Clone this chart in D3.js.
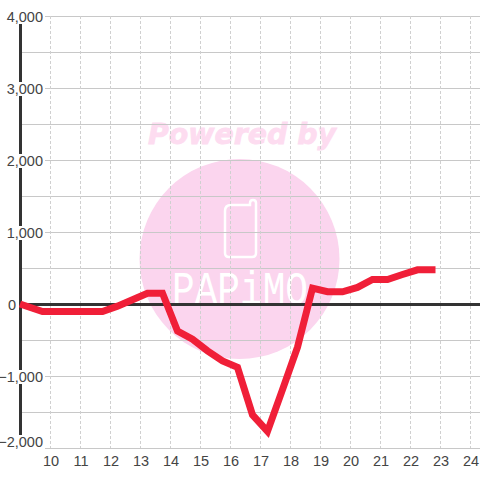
<!DOCTYPE html>
<html>
<head>
<meta charset="utf-8">
<script src="https://cdn.jsdelivr.net/npm/d3@7"></script>
<style>
  html, body { margin: 0; padding: 0; background: #fff; }
  svg { display: block; }
  text { font-family: "Liberation Sans", Arial, sans-serif; }
</style>
</head>
<body>
<div id="chart"></div>
<script>
// hour of day and value
const hours = [9, 9.75, 10.25, 10.75, 11.25, 11.75, 12.25, 12.75, 13.25, 13.75, 14.25, 14.75, 15.25, 15.75, 16.25, 16.75, 17.25, 17.75, 18.25, 18.75, 19.25, 19.75, 20.25, 20.75, 21.25, 21.75, 22.25, 22.85];
const values = [0, -105, -105, -105, -105, -105, -30, 60, 150, 150, -375, -490, -650, -790, -880, -1540, -1770, -1190, -600, 220, 170, 170, 230, 340, 340, 410, 475, 475];
const xTicks = [10, 11, 12, 13, 14, 15, 16, 17, 18, 19, 20, 21, 22, 23, 24];
const yLabels = [4000, 3000, 2000, 1000, 0, -1000, -2000];
const yGrid = [4000, 3500, 3000, 2500, 2000, 1500, 1000, 500, -500, -1000, -1500, -2000];

const width = 480, height = 480;
const x = d3.scaleLinear().domain([9, 24]).range([20, 470]);
const y = d3.scaleLinear().domain([4000, -2000]).range([16, 448]);
const fmt = d3.format(",d");

const svg = d3.select("#chart").append("svg")
    .attr("width", width)
    .attr("height", height);

// watermark, it sits under the grid
const mark = svg.append("g");
mark.append("circle")
    .attr("cx", 239.5).attr("cy", 259).attr("r", 100)
    .attr("fill", "#fbd5ee");
mark.append("text")
    .attr("x", 148).attr("y", 144)
    .style("font-family", "'DejaVu Sans'")
    .style("font-weight", "bold")
    .style("font-style", "oblique")
    .style("font-size", "28.4px")
    .attr("fill", "#fddcf0")
    .attr("stroke", "#fddcf0")
    .attr("stroke-width", 0.8)
    .text("Powered by");
mark.append("path")
    .attr("d", "M231 205 H250 V203 Q250 200 253 200 Q256 200 256 203 V253 Q256 257 252 257 H229 Q225 257 225 253 V211 Q225 205 231 205 Z")
    .attr("fill", "none")
    .attr("stroke", "#fff")
    .attr("stroke-width", 2.5);
mark.append("text")
    .attr("x", 172).attr("y", 304)
    .attr("textLength", 136)
    .attr("lengthAdjust", "spacingAndGlyphs")
    .style("font-family", "'Liberation Mono'")
    .style("font-size", "46px")
    .attr("fill", "#fff")
    .text("PAPiMO");

// grids
svg.append("g").selectAll("line")
    .data(yGrid)
    .join("line")
    .attr("x1", x(9)).attr("x2", width)
    .attr("y1", d => y(d) + 0.5).attr("y2", d => y(d) + 0.5)
    .attr("stroke", "#c8c8c8");

svg.append("g").selectAll("line")
    .data(xTicks)
    .join("line")
    .attr("x1", d => x(d) + 0.5).attr("x2", d => x(d) + 0.5)
    .attr("y1", y(4000)).attr("y2", y(-2000))
    .attr("stroke", "#d0d0d0")
    .attr("stroke-dasharray", "3,2");

// axis and zero line
svg.append("line")
    .attr("x1", x(9) + 0.5).attr("x2", x(9) + 0.5)
    .attr("y1", y(4000)).attr("y2", y(-2000))
    .attr("stroke", "#333")
    .attr("stroke-width", 3);
svg.append("line")
    .attr("x1", x(9)).attr("x2", width)
    .attr("y1", y(0) + 0.5).attr("y2", y(0) + 0.5)
    .attr("stroke", "#333")
    .attr("stroke-width", 3);

// y labels have a white box behind them that hides the axis,
// the lowest one is lifted so it stays above the x labels
const yAxis = svg.append("g").selectAll("g")
    .data(yLabels)
    .join("g")
    .attr("transform", d => `translate(${d === 0 ? 16 : 43},${y(d) - (d === -2000 ? 7 : 0)})`);
const yText = yAxis.append("text")
    .attr("y", 6)
    .attr("text-anchor", "end")
    .attr("fill", "#444")
    .style("font-size", "14.5px")
    .text(d => fmt(d));
yAxis.insert("rect", "text")
    .each(function (d, i) {
        const b = yText.nodes()[i].getBBox();
        d3.select(this)
            .attr("x", b.x - 1).attr("width", b.width + 3)
            .attr("y", -6).attr("height", 14)
            .attr("fill", "#fff");
    });

// x labels
svg.append("g").selectAll("text")
    .data(xTicks)
    .join("text")
    .attr("x", d => x(d) + 1)
    .attr("y", 466)
    .attr("text-anchor", "middle")
    .attr("fill", "#444")
    .style("font-size", "14.5px")
    .text(d => d);

// series
const line = d3.line().x(d => x(d)).y((d, i) => y(values[i]));
svg.append("path")
    .attr("d", line(hours))
    .attr("fill", "none")
    .attr("stroke", "#f01f38")
    .attr("stroke-width", 7)
    .attr("stroke-linejoin", "miter");
</script>
</body>
</html>
